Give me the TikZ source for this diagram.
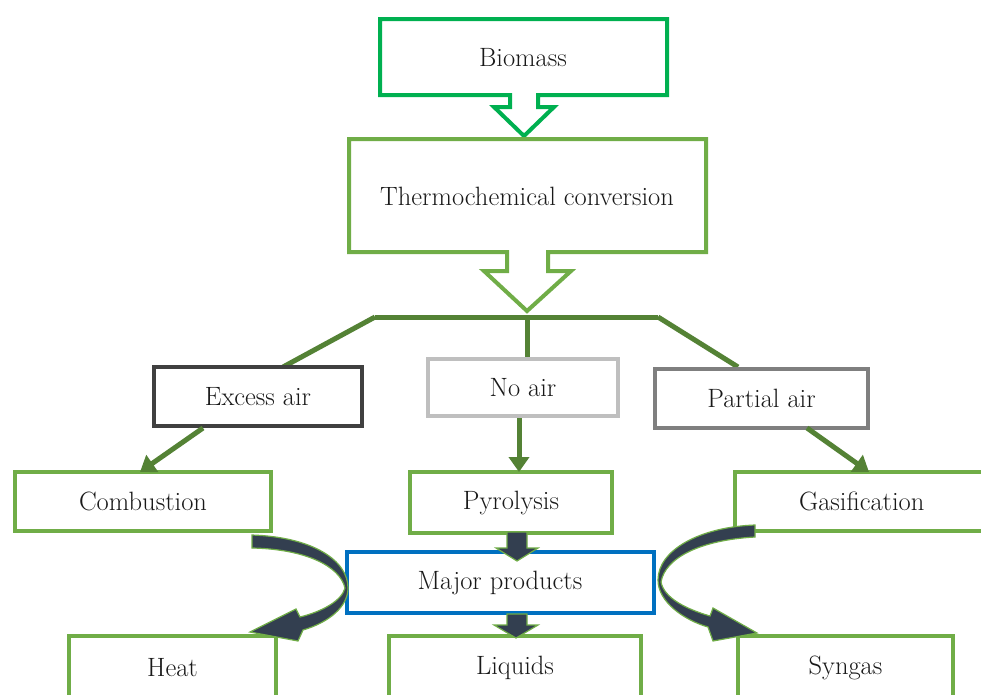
\documentclass[tikz,border=0pt]{standalone}
\usetikzlibrary{arrows.meta}
\definecolor{biogreen}{HTML}{00B050}
\definecolor{boxgreen}{HTML}{70AD47}
\definecolor{linegreen}{HTML}{548235}
\definecolor{darkgrayb}{HTML}{404040}
\definecolor{lightgrayb}{HTML}{BFBFBF}
\definecolor{midgrayb}{HTML}{7F7F7F}
\definecolor{blueb}{HTML}{0070C0}
\definecolor{slate}{HTML}{333F50}
\tikzset{
  txt/.style={font=\fontsize{26.5}{30}\selectfont, inner sep=0pt, text=black!90},
  box/.style={txt, draw=boxgreen, line width=4pt, fill=white},
  callout/.style={line width=4pt, fill=white, line join=miter},
  branch/.style={draw=linegreen, line width=5pt},
  smallarrow/.style={draw=linegreen, line width=5pt, -{Triangle[length=15pt,width=20pt]}},
  blockarrow/.style={fill=slate, draw=boxgreen, line width=1.2pt, line join=miter}
}
\begin{document}
\begin{tikzpicture}[x=1pt,y=-1pt]
\useasboundingbox (0,0) rectangle (981,694);
\clip (0,0) rectangle (981,694);
\fill[white] (0,0) rectangle (981,694);

% Biomass callout
\draw[callout, draw=biogreen] (380,19) -- (667,19) -- (667,95) -- (538,95) -- (538,107) -- (554,107)
  -- (524,136) -- (494,107) -- (510,107) -- (510,95) -- (380,95) -- cycle;
\node[txt] (bio) at (523,58) {Biomass};

% Thermochemical callout
\draw[callout, draw=boxgreen] (349,139) -- (706,139) -- (706,252) -- (548,252) -- (548,271) -- (571,271)
  -- (527,311) -- (484,271) -- (507,271) -- (507,252) -- (349,252) -- cycle;
\node[txt] (thermo) at (527,196) {Thermochemical conversion};

% branch
\coordinate (bl) at (375,317);
\coordinate (bm) at (527,317);
\coordinate (br) at (658,317);
\coordinate (ex) at (283,367);
\coordinate (na) at (527,357);
\coordinate (pa) at (738,367);
\draw[branch] (bl) -- (br);
\draw[branch] (bl) -- (ex);
\draw[branch] (bm) -- (na);
\draw[branch] (br) -- (pa);

% air boxes
\node[box, draw=darkgrayb, minimum width=208pt, minimum height=59pt] (excess) at (258,396.5) {Excess air};
\node[box, draw=lightgrayb, minimum width=190pt, minimum height=57pt] (noair) at (523,387.5) {No air};
\node[box, draw=midgrayb, minimum width=213pt, minimum height=59pt] (partial) at (761.5,398.5) {Partial air};

% process boxes
\node[box, minimum width=256pt, minimum height=59pt] (comb) at (143,501.5) {Combustion};
\node[box, minimum width=202pt, minimum height=61pt] (pyro) at (511,502.5) {Pyrolysis};
\node[box, minimum width=255pt, minimum height=59pt, text width=255pt, align=left] (gas) at (862.5,501.5) {\hspace*{64pt}Gasification};

% small arrows
\coordinate (exa) at (203,428);
\coordinate (exb) at (140,472);
\coordinate (naa) at (519,418);
\coordinate (nab) at (519,472);
\coordinate (paa) at (807,428);
\coordinate (pab) at (869,472);
\draw[smallarrow] (exa) -- (exb);
\draw[smallarrow] (naa) -- (nab);
\draw[smallarrow] (paa) -- (pab);

% major products
\node[box, draw=blueb, minimum width=307pt, minimum height=61pt] (major) at (500,582.5) {Major products};

% bottom boxes
\node[box, minimum width=207pt, minimum height=64pt] (heat) at (172.5,668) {Heat};
\node[box, minimum width=252pt, minimum height=64pt] (liq) at (515,668) {Liquids};
\node[box, minimum width=215pt, minimum height=64pt] (syn) at (845.5,668) {Syngas};

% block arrows down
\draw[blockarrow] (507,532) -- (527,532) -- (527,548) -- (538,548) -- (517,561) -- (496,548) -- (507,548) -- cycle;
\draw[blockarrow] (507,614) -- (527,614) -- (527,625) -- (538,625) -- (516,638) -- (494,625) -- (507,625) -- cycle;

% curved arrow left
\draw[blockarrow] (252,535) .. controls (312,537) and (348,560) .. (348,588)
  .. controls (348,606) and (330,622) .. (303,630) -- (298,641) -- (250,632) -- (296,609) -- (300,617)
  .. controls (324,611) and (342,600) .. (345,588)
  .. controls (340,566) and (305,549) .. (252,548) -- cycle;

% curved arrow right
\draw[blockarrow] (755,525) .. controls (700,527) and (658,550) .. (658,580)
  .. controls (658,602) and (684,620) .. (708,627) -- (713,641) -- (757,633) -- (713,608) -- (710,616)
  .. controls (686,609) and (664,598) .. (661,582)
  .. controls (665,558) and (700,540) .. (755,537) -- cycle;
\end{tikzpicture}
\end{document}
